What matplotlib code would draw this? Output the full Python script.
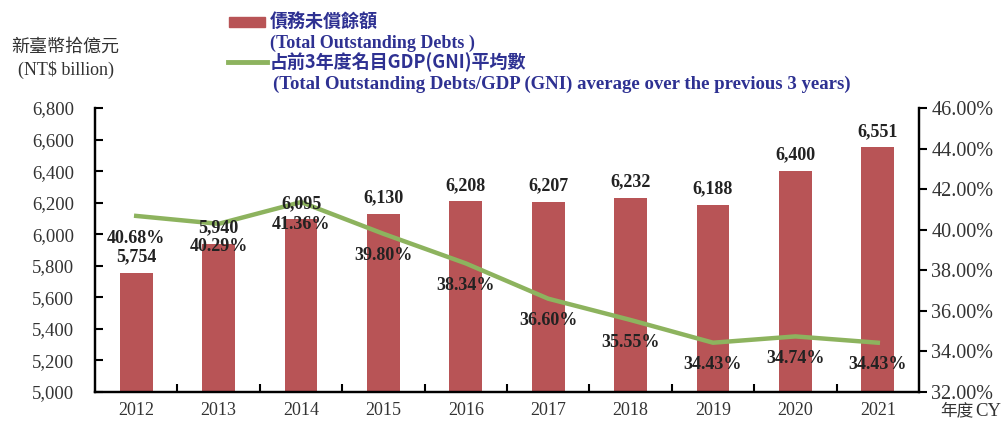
import matplotlib.pyplot as plt
from matplotlib.patches import Rectangle
from matplotlib.lines import Line2D

years = ["2012", "2013", "2014", "2015", "2016", "2017", "2018", "2019", "2020", "2021"]
debts = [5754, 5940, 6095, 6130, 6208, 6207, 6232, 6188, 6400, 6551]
ratio = [40.68, 40.29, 41.36, 39.80, 38.34, 36.60, 35.55, 34.43, 34.74, 34.43]

bar_color = "#B85456"
line_color = "#8DB35E"
blue = "#2E3192"
grey = "#333333"
serif = ["Liberation Serif", "DejaVu Serif"]
cjk = ["Noto Sans CJK TC", "DejaVu Sans"]

W, H = 1007, 421
fig = plt.figure(figsize=(W / 100, H / 100), dpi=100)
ax = fig.add_axes([95 / W, 1 - 392 / H, (919 - 95) / W, (392 - 108) / H])
ax2 = ax.twinx()

x = list(range(len(years)))
ax.bar(x, debts, width=0.4, color=bar_color, zorder=2)
ax2.plot(x, ratio, color=line_color, lw=3.2, zorder=3)

ax.set_xlim(-0.5, len(years) - 0.5)
ax.set_ylim(5000, 6800)
ax.set_yticks(range(5000, 6801, 200))
ax.set_yticklabels([f"{v:,}" for v in range(5000, 6801, 200)])
ax2.set_ylim(32, 46)
ax2.set_yticks(range(32, 47, 2))
ax2.set_yticklabels([f"{v:.2f}%" for v in range(32, 47, 2)])

ax.set_xticks([i + 0.5 for i in range(len(years) - 1)])
ax.set_xticklabels([])
ax.set_xticks(x, minor=True)
ax.set_xticklabels(years, minor=True)
ax.tick_params(axis="x", which="major", direction="in", length=6, width=1.5)
ax.tick_params(axis="x", which="minor", length=0, pad=7, labelsize=13, labelcolor=grey)
ax.tick_params(axis="y", direction="in", length=6, width=1.5, pad=15, labelsize=13.5, labelcolor=grey)
ax2.tick_params(axis="y", direction="out", length=6, width=1.5, pad=3, labelsize=14.5, labelcolor=grey)

for a in (ax, ax2):
    for lbl in a.get_xticklabels(which="both") + a.get_yticklabels():
        lbl.set_family(serif)
    a.spines["top"].set_visible(False)
    for s in ("left", "right", "bottom"):
        a.spines[s].set_linewidth(1.6)

for i, (d, r) in enumerate(zip(debts, ratio)):
    ax2.annotate(f"{d:,}", xy=(i, d), xycoords=ax.transData, xytext=(0, 11.5),
                 textcoords="offset points", ha="center", va="center",
                 fontsize=13, fontweight="bold", family=serif, color="#222222", zorder=5)
    ax2.annotate(f"{r:.2f}%", xy=(i, r), xytext=(0, -16),
                 textcoords="offset points", ha="center", va="center",
                 fontsize=13, fontweight="bold", family=serif, color="#222222", zorder=5)

# legend
fig.patches.append(Rectangle((229 / W, 1 - 27 / H), 36 / W, 10 / H,
                             transform=fig.transFigure, color=bar_color))
fig.lines.append(Line2D([228 / W, 267 / W], [1 - 62 / H, 1 - 62 / H],
                        transform=fig.transFigure, color=line_color, lw=3.5))
fig.text(270 / W, 1 - 22 / H, "債務未償餘額", family=cjk, fontweight="bold",
         fontsize=13, color=blue, va="center")
fig.text(270 / W, 1 - 43 / H, "(Total Outstanding Debts )", family=serif, fontweight="bold",
         fontsize=13, color=blue, va="center")
fig.text(270 / W, 1 - 62 / H, "占前3年度名目GDP(GNI)平均數", family=cjk, fontweight="bold",
         fontsize=13, color=blue, va="center")
fig.text(273 / W, 1 - 84 / H, "(Total Outstanding Debts/GDP (GNI) average over the previous 3 years)",
         family=serif, fontweight="bold", fontsize=13.5, color=blue, va="center")

fig.text(65 / W, 1 - 47 / H, "新臺幣拾億元", family=cjk, fontsize=13, color=grey,
         ha="center", va="center")
fig.text(66 / W, 1 - 70 / H, "(NT$ billion)", family=serif, fontsize=13, color=grey,
         ha="center", va="center")
fig.text(940 / W, 1 - 411 / H, "年度", family=cjk, fontsize=12, color=grey, va="center")
fig.text(975 / W, 1 - 411 / H, "CY", family=serif, fontsize=13.5, color=grey, va="center")

fig.savefig("out.png", dpi=100)
